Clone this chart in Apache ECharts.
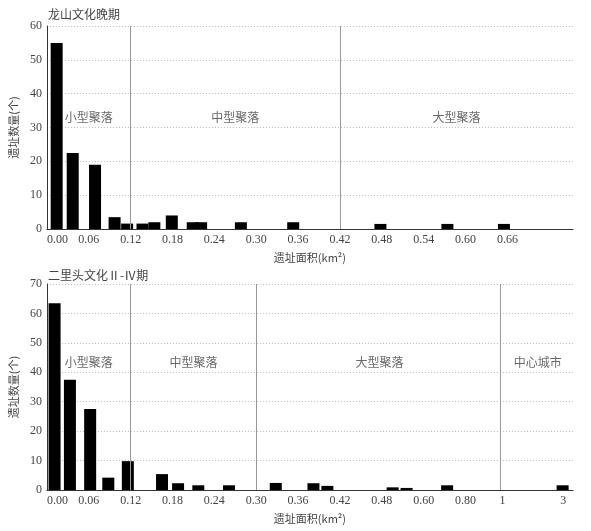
<!DOCTYPE html>
<html>
<head>
<meta charset="utf-8">
<script src="https://cdn.jsdelivr.net/npm/echarts@6/dist/echarts.min.js"></script>
<style>
  html, body { margin: 0; padding: 0; background: #fff; }
  #main { width: 591px; height: 531px; }
</style>
</head>
<body>
<div id="main"></div>
<script>
// 龙山文化晚期：遗址面积(km²) 与 遗址数量
const lsArea = [0.014, 0.037, 0.069, 0.097, 0.115, 0.137, 0.154, 0.179, 0.209, 0.221, 0.278, 0.353, 0.478, 0.574, 0.655]
const lsCount = [55, 22.5, 19, 3.5, 1.6, 1.6, 2, 4, 2, 2, 2, 2, 1.5, 1.5, 1.5]
const lsTicks = [0, 0.06, 0.12, 0.18, 0.24, 0.30, 0.36, 0.42, 0.48, 0.54, 0.60, 0.66]
const lsBounds = [0.12, 0.42]
const lsRegions = ['小型聚落', '中型聚落', '大型聚落']

// 二里头文化II-IV期
const eltArea = [0.011, 0.033, 0.062, 0.088, 0.116, 0.165, 0.188, 0.217, 0.261, 0.328, 0.382, 0.402, 0.511, 0.551, 0.712, 2.98]
const eltCount = [63.5, 37.5, 27.5, 4.2, 9.8, 5.4, 2.3, 1.6, 1.6, 2.4, 2.3, 1.4, 0.9, 0.7, 1.6, 1.6]
const eltTicks = [0, 0.06, 0.12, 0.18, 0.24, 0.30, 0.36, 0.42, 0.48, 0.60, 0.80, 1, 3]
const eltTickLabels = ['0.00', '0.06', '0.12', '0.18', '0.24', '0.30', '0.36', '0.42', '0.48', '0.60', '0.80', '1', '3']
const eltBounds = [0.12, 0.30, 1]
const eltRegions = ['小型聚落', '中型聚落', '大型聚落', '中心城市']

// 下图横轴是分段的：刻度在轴上的位置（轴单位）
const eltTickPos = [0, 0.06, 0.12, 0.18, 0.24, 0.30, 0.36, 0.42, 0.48, 0.54, 0.60, 0.653, 0.74]
const axisMax = 0.754

/**
 * 把真实面积换算成下图横轴上的位置（分段线性）
 */
function toAxis(v) {
  for (let i = 0; i < eltTicks.length - 1; i++) {
    if (v <= eltTicks[i + 1]) {
      let t = (v - eltTicks[i]) / (eltTicks[i + 1] - eltTicks[i])
      return eltTickPos[i] + t * (eltTickPos[i + 1] - eltTickPos[i])
    }
  }
  return eltTickPos[eltTickPos.length - 1]
}

const numFont = 'Liberation Serif'
const cjkFont = 'Noto Sans CJK SC'
const textColor = '#444'

function xAxisOf(gridIndex, ticks, fmt) {
  return {
    type: 'value',
    gridIndex: gridIndex,
    min: 0,
    max: axisMax,
    name: '遗址面积(km²)',
    nameLocation: 'middle',
    nameGap: 23,
    nameTextStyle: { fontFamily: cjkFont, fontSize: 11, color: textColor },
    axisLine: { lineStyle: { color: '#333', width: 1 } },
    axisTick: { show: false },
    splitLine: { show: false },
    axisLabel: {
      customValues: ticks,
      formatter: fmt,
      fontFamily: numFont,
      fontSize: 12,
      color: textColor,
      margin: 5,
      alignMinLabel: 'left',
      showMaxLabel: true
    }
  }
}

function yAxisOf(gridIndex, max) {
  return {
    type: 'value',
    gridIndex: gridIndex,
    min: 0,
    max: max,
    interval: 10,
    name: '遗址数量(个)',
    nameLocation: 'middle',
    nameGap: 22,
    nameTextStyle: { fontFamily: cjkFont, fontSize: 11, color: textColor },
    axisLine: { show: true, lineStyle: { color: '#333', width: 1 } },
    axisTick: { show: false },
    splitLine: { show: true, lineStyle: { color: '#bbb', type: [1, 2], width: 1 } },
    axisLabel: { fontFamily: numFont, fontSize: 12, color: textColor, margin: 5 }
  }
}

/**
 * 区域名称：放在每个分区的中间
 */
function regionLabels(bounds, names, yVal) {
  let edges = [0].concat(bounds).concat([axisMax])
  let data = []
  for (let i = 0; i < names.length; i++) {
    data.push({ value: [(edges[i] + edges[i + 1]) / 2, yVal], name: names[i] })
  }
  return data
}

function sepLines(bounds) {
  return bounds.map(b => ({ xAxis: b }))
}

const eltBoundsPos = eltBounds.map(toAxis)

let chart = echarts.init(document.getElementById('main'))
chart.setOption({
  animation: false,
  backgroundColor: '#fff',
  title: [
    { text: '龙山文化晚期', left: 43, top: 3, textStyle: { fontFamily: cjkFont, fontSize: 12, fontWeight: 'normal', color: textColor } },
    { text: '二里头文化Ⅱ-Ⅳ期', left: 43, top: 264, textStyle: { fontFamily: cjkFont, fontSize: 12, fontWeight: 'normal', color: textColor } }
  ],
  grid: [
    { left: 45, right: 18, top: 26, height: 203 },
    { left: 45, right: 18, top: 284, height: 206 }
  ],
  xAxis: [
    xAxisOf(0, lsTicks, v => v.toFixed(2)),
    xAxisOf(1, eltTickPos, v => {
      let i = eltTickPos.findIndex(p => Math.abs(p - v) < 1e-6)
      return i >= 0 ? eltTickLabels[i] : ''
    })
  ],
  yAxis: [yAxisOf(0, 60), yAxisOf(1, 70)],
  series: [
    {
      type: 'bar',
      xAxisIndex: 0,
      yAxisIndex: 0,
      barWidth: 12,
      itemStyle: { color: '#000' },
      data: lsArea.map((a, i) => [a, lsCount[i]]),
      markLine: {
        silent: true,
        symbol: 'none',
        label: { show: false },
        lineStyle: { color: '#999', type: 'solid', width: 1 },
        data: sepLines(lsBounds)
      }
    },
    {
      type: 'bar',
      xAxisIndex: 1,
      yAxisIndex: 1,
      barWidth: 12,
      itemStyle: { color: '#000' },
      data: eltArea.map((a, i) => [toAxis(a), eltCount[i]]),
      markLine: {
        silent: true,
        symbol: 'none',
        label: { show: false },
        lineStyle: { color: '#999', type: 'solid', width: 1 },
        data: sepLines(eltBoundsPos)
      }
    },
    {
      type: 'scatter',
      xAxisIndex: 0,
      yAxisIndex: 0,
      symbolSize: 0,
      silent: true,
      label: { show: true, position: 'inside', formatter: '{b}', fontFamily: cjkFont, fontSize: 12, color: textColor },
      data: regionLabels(lsBounds, lsRegions, 33)
    },
    {
      type: 'scatter',
      xAxisIndex: 1,
      yAxisIndex: 1,
      symbolSize: 0,
      silent: true,
      label: { show: true, position: 'inside', formatter: '{b}', fontFamily: cjkFont, fontSize: 12, color: textColor },
      data: regionLabels(eltBoundsPos, eltRegions, 43.5)
    }
  ]
})
</script>
</body>
</html>
